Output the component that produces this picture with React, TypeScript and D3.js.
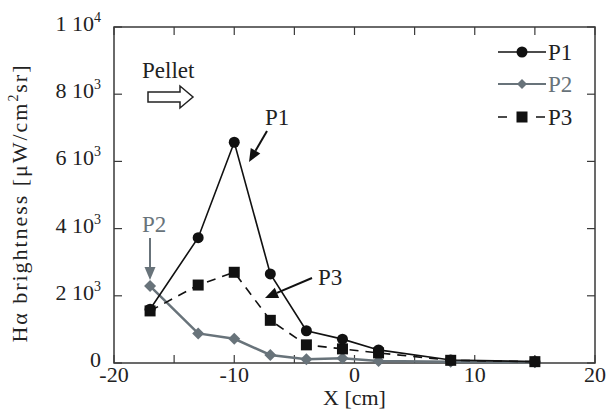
import React from 'react';
import * as d3 from 'd3';

// X positions along the pellet path [cm]
const xPos = [-17, -13, -10, -7, -4, -1, 2, 8, 15];
// H-alpha brightness per chord [uW/cm2 sr]
const p1 = [1600, 3730, 6570, 2650, 960, 710, 390, 90, 40];
const p2 = [2290, 880, 720, 240, 110, 140, 60, 40, 20];
const p3 = [1550, 2320, 2700, 1270, 540, 420, 300, 80, 40];

const xTicks = [-20, -15, -10, -5, 0, 5, 10, 15, 20];
const xTickLabels = ['-20', '', '-10', '', '0', '', '10', '', '20'];
const yTicks = [0, 2000, 4000, 6000, 8000, 10000];
const yTickBase = ['0', '2 10', '4 10', '6 10', '8 10', '1 10'];
const yTickExp = ['', '3', '3', '3', '3', '4'];

const W = 606, H = 412;
const margin = { top: 27, right: 11, bottom: 49, left: 114 };
const FONT = 'Liberation Serif';
const GRAY = '#68737a';
const AX = '#3a3a3a';
const FS = 22;

export default function App() {
  const x = d3.scaleLinear().domain([-20, 20]).range([margin.left, W - margin.right]);
  const y = d3.scaleLinear().domain([0, 10000]).range([H - margin.bottom, margin.top]);
  const line = d3.line<number>().x((_, i) => x(xPos[i])).y(d => y(d));
  const x0 = margin.left, x1 = W - margin.right, y0 = H - margin.bottom, y1 = margin.top;

  const diamond = (cx: number, cy: number, r: number) =>
    `M${cx},${cy - r}L${cx + r},${cy}L${cx},${cy + r}L${cx - r},${cy}Z`;

  const arrow = (fx: number, fy: number, tx: number, ty: number, color: string) => {
    const ang = Math.atan2(ty - fy, tx - fx);
    const len = 13, half = 5.5;
    const bx = tx - len * Math.cos(ang), by = ty - len * Math.sin(ang);
    const px = -Math.sin(ang) * half, py = Math.cos(ang) * half;
    return (
      <g>
        <line x1={fx} y1={fy} x2={bx} y2={by} stroke={color} strokeWidth={2} />
        <path d={`M${tx},${ty}L${bx + px},${by + py}L${bx - px},${by - py}Z`} fill={color} />
      </g>
    );
  };

  return (
    <div style={{ position: 'fixed', left: 0, top: 0 }}>
      <svg width={W} height={H} style={{ display: 'block', background: '#fff', fontFamily: FONT }}>
        {/* frame */}
        <rect x={x0} y={y1} width={x1 - x0} height={y0 - y1} fill="none" stroke={AX} strokeWidth={1.5} />
        {xTicks.map((t, i) => (
          <g key={'xt' + i}>
            <line x1={x(t)} x2={x(t)} y1={y0} y2={y0 - 8} stroke={AX} strokeWidth={1.2} />
            <line x1={x(t)} x2={x(t)} y1={y1} y2={y1 + 8} stroke={AX} strokeWidth={1.2} />
            {xTickLabels[i] && (
              <text x={x(t)} y={y0 + 19} textAnchor="middle" fontSize={FS} fill="#222">{xTickLabels[i]}</text>
            )}
          </g>
        ))}
        {yTicks.map((t, i) => (
          <g key={'yt' + i}>
            <line x1={x0} x2={x0 + 8} y1={y(t)} y2={y(t)} stroke={AX} strokeWidth={1.2} />
            <line x1={x1} x2={x1 - 8} y1={y(t)} y2={y(t)} stroke={AX} strokeWidth={1.2} />
            <text x={101} y={y(t) + 4} textAnchor="end" fontSize={FS} fill="#222">
              {yTickBase[i]}
              {yTickExp[i] && <tspan fontSize={14} dy={-9}>{yTickExp[i]}</tspan>}
            </text>
          </g>
        ))}
        <text x={(x0 + x1) / 2} y={405} textAnchor="middle" fontSize={FS} fill="#222">X [cm]</text>
        <text transform={`translate(27,204) rotate(-90)`} textAnchor="middle" fontSize={FS} fill="#222"
          textLength={277} lengthAdjust="spacing">
          Hα brightness [μW/cm<tspan fontSize={14} dy={-9}>2</tspan><tspan dy={9}>sr]</tspan>
        </text>

        {/* series */}
        <path d={line(p2) || ''} fill="none" stroke={GRAY} strokeWidth={2.5} />
        <path d={line(p3) || ''} fill="none" stroke="#111" strokeWidth={1.6} strokeDasharray="9,7" />
        <path d={line(p1) || ''} fill="none" stroke="#111" strokeWidth={1.6} />
        {p2.map((v, i) => <path key={'d' + i} d={diamond(x(xPos[i]), y(v), 6)} fill={GRAY} />)}
        {p3.map((v, i) => <rect key={'s' + i} x={x(xPos[i]) - 5.5} y={y(v) - 5.5} width={11} height={11} fill="#111" />)}
        {p1.map((v, i) => <circle key={'c' + i} cx={x(xPos[i])} cy={y(v)} r={5.5} fill="#111" />)}

        {/* annotations */}
        <text x={142} y={78} fontSize={FS + 1} fill="#222">Pellet</text>
        <path d="M148,92L180,92L180,86L193,97L180,108L180,102L148,102Z" fill="#fff" stroke="#222" strokeWidth={1.5} />
        <text x={265} y={125} fontSize={FS + 1} fill="#222">P1</text>
        {arrow(267, 131, 249, 162, '#111')}
        <text x={318} y={285} fontSize={FS + 1} fill="#222">P3</text>
        {arrow(312, 278, 265, 298, '#111')}
        <text x={142} y={232} fontSize={FS + 1} fill={GRAY}>P2</text>
        {arrow(150, 238, 150, 280, GRAY)}

        {/* legend */}
        <line x1={498} x2={546} y1={52} y2={52} stroke="#111" strokeWidth={1.6} />
        <circle cx={522} cy={52} r={5.5} fill="#111" />
        <text x={548} y={60} fontSize={FS + 1} fill="#222">P1</text>
        <line x1={498} x2={546} y1={84} y2={84} stroke={GRAY} strokeWidth={2} />
        <path d={diamond(522, 84, 5)} fill={GRAY} />
        <text x={548} y={92} fontSize={FS + 1} fill={GRAY}>P2</text>
        <line x1={498} x2={546} y1={117} y2={117} stroke="#111" strokeWidth={1.6} strokeDasharray="9,10" />
        <rect x={516.5} y={111.5} width={11} height={11} fill="#111" />
        <text x={548} y={125} fontSize={FS + 1} fill="#222">P3</text>
      </svg>
    </div>
  );
}
